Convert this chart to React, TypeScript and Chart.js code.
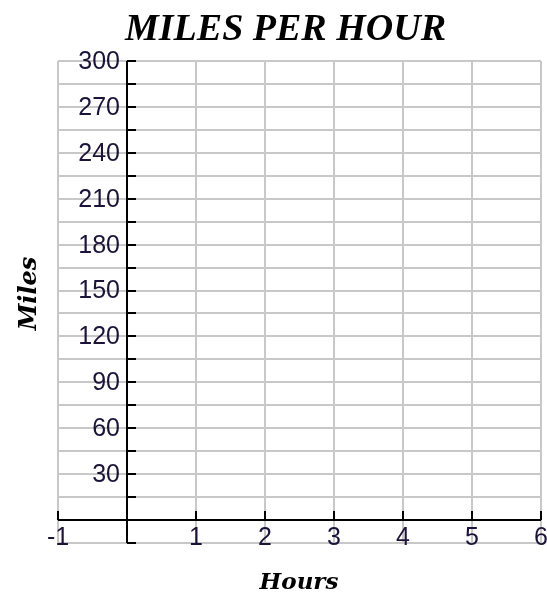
import React, { useEffect, useRef } from "react";
import { Chart, registerables } from "chart.js";

Chart.register(...registerables);

// ---- data ----
const TITLE = "MILES PER HOUR";
const X_TITLE = "Hours";
const Y_TITLE = "Miles";
const X_MIN = -1;
const X_MAX = 6;
const Y_MIN = -15;
const Y_MAX = 300;
const X_LABELS = [-1, 1, 2, 3, 4, 5, 6];
const X_TICK_MARKS = [-1, 1, 2, 3, 4, 5, 6];
const Y_LABELS = [30, 60, 90, 120, 150, 180, 210, 240, 270, 300];
const Y_TICK_MARKS = [-15, 15, 30, 45, 60, 75, 90, 105, 120, 135, 150, 165, 180, 195, 210, 225, 240, 255, 270, 285, 300];
const POINTS: { x: number; y: number }[] = [];

const GRID_COLOR = "#c8c8c8";
const LABEL_COLOR = "#1c1438";

const axesPlugin = {
  id: "customAxes",
  afterDraw(chart: any) {
    const ctx = chart.ctx as CanvasRenderingContext2D;
    const xs = chart.scales.x;
    const ys = chart.scales.y;
    const x0 = Math.round(xs.getPixelForValue(0));
    const y0 = Math.round(ys.getPixelForValue(0));
    ctx.save();
    ctx.strokeStyle = "#000";
    ctx.lineWidth = 2;
    // y axis line
    ctx.beginPath();
    ctx.moveTo(x0, ys.getPixelForValue(Y_MAX));
    ctx.lineTo(x0, ys.getPixelForValue(Y_MIN));
    ctx.stroke();
    // y tick marks (to the right)
    for (const v of Y_TICK_MARKS) {
      const py = Math.round(ys.getPixelForValue(v));
      ctx.beginPath();
      ctx.moveTo(x0, py);
      ctx.lineTo(x0 + 9, py);
      ctx.stroke();
    }
    // x axis line
    ctx.beginPath();
    ctx.moveTo(xs.getPixelForValue(X_MIN), y0);
    ctx.lineTo(xs.getPixelForValue(X_MAX), y0);
    ctx.stroke();
    for (const v of X_TICK_MARKS) {
      const px = Math.round(xs.getPixelForValue(v));
      ctx.beginPath();
      ctx.moveTo(px, y0);
      ctx.lineTo(px, y0 - 9);
      ctx.stroke();
    }
    // tick labels
    ctx.fillStyle = LABEL_COLOR;
    ctx.font = "25px 'Liberation Sans', Arial, sans-serif";
    ctx.textAlign = "right";
    ctx.textBaseline = "middle";
    for (const v of Y_LABELS) {
      ctx.fillText(String(v), x0 - 7, ys.getPixelForValue(v) + 1);
    }
    ctx.textAlign = "center";
    ctx.textBaseline = "top";
    for (const v of X_LABELS) {
      ctx.fillText(String(v), xs.getPixelForValue(v), y0 + 6);
    }
    // titles
    ctx.fillStyle = "#000";
    ctx.textBaseline = "alphabetic";
    ctx.font = "italic bold 38px 'Liberation Serif', serif";
    ctx.textAlign = "center";
    ctx.fillText(TITLE, 285.5, 39.5);
    ctx.font = "italic bold 23px 'DejaVu Serif', serif";
    ctx.fillText(X_TITLE, 299, 589);
    ctx.save();
    ctx.translate(36, 293.5);
    ctx.rotate(-Math.PI / 2);
    ctx.font = "italic bold 24px 'DejaVu Serif', serif";
    ctx.fillText(Y_TITLE, 0, 0);
    ctx.restore();
    ctx.restore();
  },
};

export default function App() {
  const ref = useRef<HTMLCanvasElement | null>(null);
  useEffect(() => {
    if (!ref.current) return;
    const chart = new Chart(ref.current, {
      type: "scatter",
      data: { datasets: [{ data: POINTS, showLine: false }] },
      options: {
        animation: false,
        responsive: false,
        devicePixelRatio: 1,
        layout: { padding: { left: 58, right: 6, top: 61, bottom: 52 } },
        plugins: { legend: { display: false }, title: { display: false }, tooltip: { enabled: false } },
        scales: {
          x: {
            type: "linear",
            min: X_MIN,
            max: X_MAX,
            ticks: { stepSize: 1, display: false },
            grid: { color: GRID_COLOR, lineWidth: 2, drawTicks: false },
            border: { display: false },
          },
          y: {
            type: "linear",
            min: Y_MIN,
            max: Y_MAX,
            ticks: { stepSize: 15, display: false },
            grid: { color: GRID_COLOR, lineWidth: 2, drawTicks: false },
            border: { display: false },
          },
        },
      },
      plugins: [axesPlugin],
    });
    return () => chart.destroy();
  }, []);
  return (
    <div style={{ position: "fixed", left: 0, top: 0, width: 547, height: 595, background: "#fff" }}>
      <canvas ref={ref} width={547} height={595} />
    </div>
  );
}
